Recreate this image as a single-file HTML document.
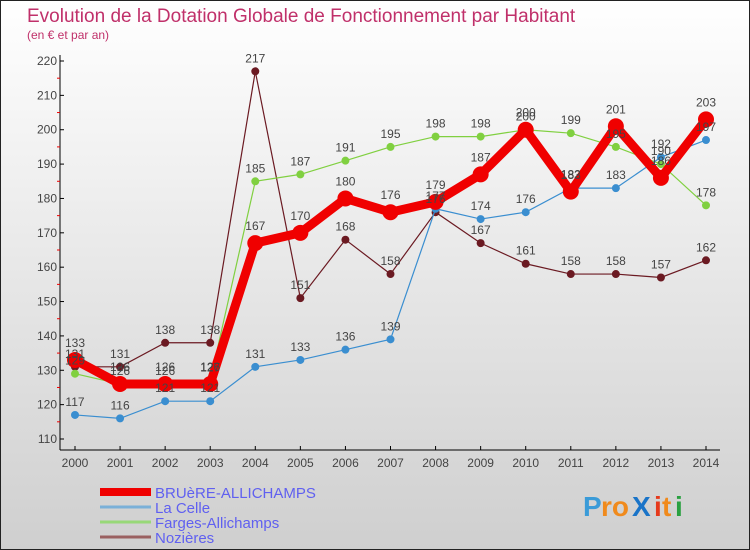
<!DOCTYPE html>
<html><head><meta charset="utf-8"><style>
body{margin:0;}
#wrap{width:750px;height:550px;position:relative;overflow:hidden;}
svg text{font-family:"Liberation Sans","DejaVu Sans",sans-serif;}
</style></head><body>
<div id="wrap">
<svg id="chart" width="750" height="550" xmlns="http://www.w3.org/2000/svg">
<defs><linearGradient id="bg" x1="0" y1="0" x2="0" y2="1"><stop offset="0" stop-color="#ffffff"/><stop offset="1" stop-color="#cfcfcf"/></linearGradient></defs>
<rect x="0.5" y="0.5" width="749" height="549" fill="url(#bg)" stroke="#222"/>
<text x="27" y="22" font-size="19" fill="#c0306a">Evolution de la Dotation Globale de Fonctionnement par Habitant</text>
<text x="27" y="39" font-size="12" fill="#c0306a">(en € et par an)</text>
<g id="axes"></g><g id="series"></g><g id="labels"></g><g id="legend"></g>
<g font-size="28" font-weight="bold">
<text x="583" y="516" fill="#3a9bd8">P</text><text x="601" y="516" fill="#f08a1c">ro</text><text x="632" y="516" fill="#1a74c8">X</text><text x="654" y="516" fill="#e63a1c">i</text><text x="662" y="516" fill="#f08a1c">t</text><text x="675" y="516" fill="#2aa040">i</text>
</g>
</svg>
</div>
<script>
const years=[2000,2001,2002,2003,2004,2005,2006,2007,2008,2009,2010,2011,2012,2013,2014];
const bruere=[133,126,126,126,167,170,180,176,179,187,200,182,201,186,203];
const laCelle=[117,116,121,121,131,133,136,139,177,174,176,183,183,192,197];
const farges=[129,126,126,127,185,187,191,195,198,198,200,199,195,190,178];
const nozieres=[131,131,138,138,217,151,168,158,176,167,161,158,158,157,162];
const yTicks=[110,120,130,140,150,160,170,180,190,200,210,220];
const NS="http://www.w3.org/2000/svg";
function X(i){return 75+i*(706-75)/(years.length-1);}
function Y(v){return 439-(v-110)*(439-61)/110;}
function mk(tag,attrs,parent){const e=document.createElementNS(NS,tag);for(const k in attrs)e.setAttribute(k,attrs[k]);parent.appendChild(e);return e;}
const axes=document.getElementById('axes');
let yl=mk('line',{x1:60,y1:55,x2:60,y2:450,stroke:'#000'},axes);


let xl=mk('line',{x1:60,y1:450,x2:720,y2:450,stroke:'#000'},axes);


yTicks.forEach((t,i)=>{
  mk('line',{x1:60,y1:Y(t),x2:64,y2:Y(t),stroke:'#000'},axes);
  if(i<yTicks.length-1) mk('line',{x1:57,y1:Y(t+5),x2:60,y2:Y(t+5),stroke:'#e00'},axes);
  const tx=mk('text',{x:57,y:Y(t)+4,'font-size':12,fill:'#444','text-anchor':'end'},axes);
  tx.textContent=t;
  
  
});
years.forEach((yr,i)=>{
  mk('line',{x1:X(i),y1:446,x2:X(i),y2:450,stroke:'#000'},axes);
  const tx=mk('text',{x:X(i),y:467,'font-size':12,fill:'#444','text-anchor':'middle'},axes);
  tx.textContent=yr;
  
  
});
const series=[
 {name:'nozieres',data:nozieres,color:'#6b1a22',w:1.2,r:4},
 {name:'farges',data:farges,color:'#80d040',w:1.2,r:4},
 {name:'la-celle',data:laCelle,color:'#3a8ed0',w:1.2,r:4},
 {name:'bruere',data:bruere,color:'#f00000',w:9,r:8}];
const sg=document.getElementById('series'),lg=document.getElementById('labels');
series.forEach(s=>{
  const p=mk('polyline',{points:s.data.map((v,i)=>X(i)+','+Y(v)).join(' '),fill:'none',stroke:s.color,'stroke-width':s.w,'stroke-linejoin':'miter'},sg);
  
  
  s.data.forEach((v,i)=>{
    const c=mk('circle',{cx:X(i),cy:Y(v),r:s.r,fill:s.color},sg);
    
    
    const t=mk('text',{x:X(i),y:Y(v)-(s.r+5),'font-size':12,fill:'#444','text-anchor':'middle'},lg);
    t.textContent=v;
    
    
  });
});
const legend=document.getElementById('legend');
const leg=[['BRUèRE-ALLICHAMPS','#f00000',8],['La Celle','#7ab0d8',3],['Farges-Allichamps','#98d878',3],['Nozières','#9a6060',3]];
leg.forEach((l,i)=>{
  const y=492+i*15;
  const ln=mk('line',{x1:100,y1:y,x2:151,y2:y,stroke:l[1],'stroke-width':l[2]},legend);
  
  
  const t=mk('text',{x:155,y:y+6,'font-size':15,fill:'#6060f0'},legend);
  t.textContent=l[0];
  
  
});
</script>
</body></html>
